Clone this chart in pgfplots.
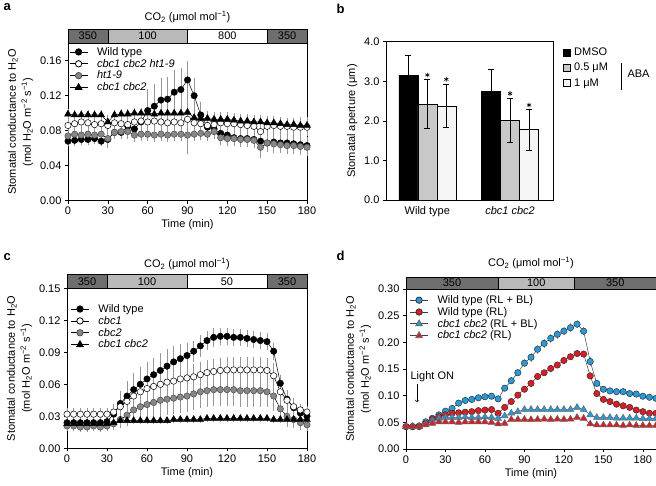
\documentclass[border=0pt]{standalone}
\usepackage{fontspec}
\setmainfont{Liberation Sans}
\usepackage{pgfplots}
\pgfplotsset{compat=1.18}
\usepackage{pgfplotstable}

\definecolor{co2dark}{RGB}{110,110,110}
\definecolor{co2light}{RGB}{185,185,185}
\definecolor{midgray}{RGB}{135,135,135}
\definecolor{ebar}{RGB}{150,150,150}
\definecolor{dblue}{RGB}{35,155,220}
\definecolor{dred}{RGB}{225,25,35}
\definecolor{barmid}{RGB}{200,200,200}
\definecolor{barlight}{RGB}{245,245,245}

% panel a: t, WT, cbc1 cbc2 ht1-9, ht1-9, cbc1 cbc2 (value, error)
\pgfplotstableread{
t wt ewt op eop ht eht cc ecc
0 .068 .006 .086 .008 .074 .006 .099 .006
5 .069 .006 .088 .008 .076 .006 .098 .006
10 .070 .006 .090 .010 .075 .006 .098 .006
15 .070 .006 .089 .010 .076 .006 .098 .006
20 .071 .006 .087 .010 .075 .006 .098 .006
25 .068 .006 .088 .010 .076 .006 .098 .006
30 .070 .010 .086 .012 .071 .010 .090 .008
35 .078 .008 .089 .010 .078 .008 .098 .006
40 .078 .008 .088 .010 .079 .008 .099 .006
45 .085 .010 .087 .010 .079 .008 .099 .006
50 .082 .012 .090 .010 .075 .008 .100 .006
55 .090 .015 .091 .010 .076 .008 .100 .006
60 .103 .025 .090 .010 .076 .008 .100 .008
65 .108 .025 .091 .010 .075 .008 .099 .008
70 .115 .025 .090 .010 .076 .008 .100 .008
75 .116 .025 .089 .010 .075 .008 .100 .008
80 .124 .025 .090 .012 .076 .008 .100 .008
85 .127 .025 .089 .012 .076 .008 .100 .008
90 .138 .022 .093 .040 .075 .008 .101 .010
95 .120 .020 .089 .012 .076 .008 .095 .008
100 .098 .015 .088 .010 .077 .008 .094 .008
105 .084 .012 .086 .010 .076 .008 .094 .008
110 .082 .012 .087 .010 .079 .008 .093 .008
115 .077 .010 .089 .010 .072 .008 .093 .008
120 .075 .010 .088 .010 .071 .008 .093 .008
125 .072 .010 .088 .010 .071 .008 .092 .008
130 .071 .010 .087 .010 .070 .008 .091 .008
135 .071 .010 .086 .010 .070 .008 .091 .008
140 .070 .010 .085 .010 .069 .008 .090 .008
145 .068 .010 .079 .010 .061 .012 .090 .008
150 .066 .010 .085 .010 .066 .010 .089 .008
155 .067 .010 .086 .010 .065 .010 .089 .008
160 .066 .010 .085 .010 .064 .010 .088 .008
165 .066 .010 .085 .010 .063 .010 .087 .008
170 .065 .010 .084 .010 .063 .010 .087 .008
175 .064 .010 .084 .010 .062 .010 .086 .010
180 .063 .010 .084 .010 .061 .010 .086 .010
}\tabA

% panel c: t, WT, cbc1, cbc2, cbc1 cbc2
\pgfplotstableread{
t wt ewt ca eca cb ecb cc ecc
0 .024 .004 .032 .006 .021 .005 .023 .003
5 .024 .004 .032 .006 .021 .005 .023 .003
10 .024 .004 .032 .006 .020 .005 .023 .003
15 .024 .004 .032 .006 .020 .005 .023 .003
20 .024 .004 .032 .006 .021 .005 .023 .003
25 .024 .004 .032 .006 .020 .005 .023 .003
30 .025 .004 .032 .006 .021 .005 .023 .003
35 .032 .008 .034 .008 .023 .006 .024 .003
40 .042 .012 .039 .010 .027 .008 .026 .003
45 .049 .014 .044 .012 .031 .010 .026 .003
50 .055 .016 .049 .012 .036 .012 .026 .003
55 .060 .016 .053 .012 .039 .014 .026 .003
60 .065 .016 .056 .012 .041 .014 .026 .003
65 .069 .016 .058 .012 .043 .015 .026 .003
70 .073 .016 .060 .012 .045 .015 .026 .003
75 .077 .016 .062 .012 .046 .015 .026 .003
80 .081 .015 .063 .012 .047 .015 .027 .003
85 .084 .014 .065 .012 .048 .015 .027 .003
90 .087 .012 .066 .012 .049 .015 .027 .003
95 .091 .010 .067 .012 .051 .015 .027 .003
100 .096 .010 .069 .012 .053 .015 .027 .003
105 .101 .009 .071 .012 .054 .015 .028 .003
110 .104 .009 .072 .012 .055 .015 .028 .003
115 .105 .008 .073 .012 .055 .015 .028 .003
120 .105 .008 .0735 .012 .055 .015 .028 .003
125 .104 .008 .0735 .012 .055 .015 .028 .003
130 .104 .008 .0735 .012 .054 .015 .028 .003
135 .103 .008 .0735 .012 .054 .015 .028 .003
140 .102 .008 .0735 .012 .054 .015 .028 .003
145 .101 .008 .0735 .012 .054 .015 .028 .003
150 .100 .008 .073 .012 .053 .014 .028 .003
155 .091 .008 .068 .012 .049 .014 .027 .003
160 .061 .008 .053 .012 .037 .012 .027 .003
165 .046 .008 .045 .010 .030 .010 .027 .003
170 .038 .006 .039 .008 .027 .008 .027 .003
175 .033 .006 .036 .006 .024 .007 .027 .003
180 .030 .006 .034 .006 .022 .006 .027 .003
}\tabC

% panel d: t, WT (RL+BL), WT (RL), cbc1 cbc2 (RL+BL), cbc1 cbc2 (RL)
\pgfplotstableread{
t wb ewb wr ewr cb ecb cr ecr
0 .042 .004 .042 .004 .042 .003 .042 .003
5 .042 .004 .042 .004 .042 .003 .042 .003
10 .043 .004 .042 .004 .042 .003 .042 .003
15 .051 .005 .048 .004 .047 .003 .045 .003
20 .0575 .005 .0555 .005 .053 .004 .048 .003
25 .064 .005 .0605 .005 .0575 .004 .051 .003
30 .071 .006 .064 .005 .059 .004 .051 .003
35 .076 .006 .067 .005 .059 .004 .051 .003
40 .086 .006 .068 .005 .059 .004 .050 .003
45 .091 .006 .069 .005 .060 .004 .051 .003
50 .093 .006 .070 .005 .059 .004 .051 .003
55 .096 .006 .072 .005 .059 .004 .051 .003
60 .098 .006 .073 .005 .060 .004 .051 .003
65 .099 .006 .074 .005 .059 .004 .050 .003
70 .094 .006 .067 .005 .0575 .004 .047 .003
75 .114 .006 .078 .005 .062 .004 .048 .003
80 .128 .007 .089 .005 .067 .004 .0555 .003
85 .143 .007 .101 .006 .070 .004 .0555 .003
90 .161 .008 .112 .006 .074 .004 .0555 .003
95 .172 .008 .123 .006 .074 .004 .055 .003
100 .187 .008 .136 .006 .074 .004 .0555 .003
105 .198 .008 .143 .006 .074 .004 .056 .003
110 .2075 .008 .151 .006 .074 .004 .0555 .003
115 .215 .008 .1575 .006 .074 .004 .056 .003
120 .221 .008 .166 .006 .074 .004 .0555 .003
125 .2275 .008 .173 .006 .074 .004 .056 .003
130 .234 .008 .179 .006 .078 .004 .059 .003
135 .221 .008 .178 .006 .074 .004 .0575 .003
140 .164 .008 .137 .006 .064 .004 .047 .003
145 .123 .006 .104 .005 .059 .004 .045 .003
150 .112 .006 .093 .005 .059 .004 .045 .003
155 .109 .006 .089 .005 .059 .004 .045 .003
160 .1075 .006 .084 .005 .058 .004 .045 .003
165 .1075 .006 .081 .005 .058 .004 .044 .003
170 .104 .006 .078 .005 .058 .004 .045 .003
175 .103 .006 .073 .005 .058 .004 .044 .003
180 .099 .006 .070 .005 .057 .004 .044 .003
185 .097 .006 .067 .005 .057 .004 .044 .003
190 .095 .006 .067 .005 .057 .004 .044 .003
}\tabD

\pgfplotsset{
  base/.style={scale only axis, clip=false, anchor=south west,
    axis line style={line width=0.7pt},
    tick align=outside, major tick length=3pt, tick style={black, line width=0.6pt},
    xtick pos=bottom, ytick pos=left,
    /pgf/number format/assume math mode=true},
  tc/.style={base,
    yticklabel style={/pgf/number format/fixed, /pgf/number format/fixed zerofill, /pgf/number format/precision=2},
    xlabel={Time (min)}, xlabel style={yshift=2pt},
    ylabel={Stomatal conductance to H\textsubscript{2}O\\[2pt](mol H\textsubscript{2}O m\textsuperscript{−2} s\textsuperscript{−1})},
    ylabel style={align=center},
    legend image code/.code={\draw[mark repeat=2, mark phase=2, ##1, line width=0.8pt] plot coordinates {(-1pt,0pt) (8pt,0pt) (17pt,0pt)};},
    legend style={draw=none, fill=none, anchor=north west, row sep=-1.6pt, inner sep=1pt,
      /tikz/every odd column/.append style={column sep=7pt}},
    legend cell align=left},
  eb/.style={error bars/y dir=both, error bars/y explicit, error bars/error mark=none,
    error bars/error bar style={ebar, line width=0.7pt}},
  ln/.style={line width=0.5pt, mark size=3.2pt},
  tri/.style={line width=0.5pt, mark=triangle*, mark size=3.9pt},
  barerr/.style={error bars/y dir=both, error bars/y explicit,
    error bars/error bar style={black, line width=0.6pt},
    error bars/error mark options={black, line width=0.6pt, mark size=3pt, rotate=90}},
}

\begin{document}
\begin{tikzpicture}[font=\fontsize{11}{13}\selectfont]
\useasboundingbox (0pt,0pt) rectangle (656pt,-485pt);

% ---------- a ----------
\begin{axis}[tc, at={(68pt,-200.7pt)}, width=239pt, height=157.5pt,
  xmin=0, xmax=180, ymin=0, ymax=0.18, xtick={0,30,...,180}, ytick={0,0.04,...,0.16},
  legend style={at={(0.0,0.995)}}]
\addplot[ln, black, mark=*, mark options={fill=black}, eb] table[x=t, y=wt, y error=ewt] {\tabA};
\addlegendentry{Wild type}
\addplot[ln, black, mark=*, mark options={fill=white}, eb] table[x=t, y=op, y error=eop] {\tabA};
\addlegendentry{\textit{cbc1 cbc2 ht1-9}}
\addplot[ln, black, mark=*, mark options={fill=midgray, draw=black!70}, eb] table[x=t, y=ht, y error=eht] {\tabA};
\addlegendentry{\textit{ht1-9}}
\addplot[tri, black, mark options={fill=black}, eb] table[x=t, y=cc, y error=ecc] {\tabA};
\addlegendentry{\textit{cbc1 cbc2}}
\draw[line width=0.6pt, fill=co2dark] (rel axis cs:0,1) rectangle ([yshift=14pt]rel axis cs:0.16667,1);
\draw[line width=0.6pt, fill=co2light] (rel axis cs:0.16667,1) rectangle ([yshift=14pt]rel axis cs:0.5,1);
\draw[line width=0.6pt, fill=white] (rel axis cs:0.5,1) rectangle ([yshift=14pt]rel axis cs:0.83333,1);
\draw[line width=0.6pt, fill=co2dark] (rel axis cs:0.83333,1) rectangle ([yshift=14pt]rel axis cs:1,1);
\node at ([yshift=7pt]rel axis cs:0.08333,1) {350};
\node at ([yshift=7pt]rel axis cs:0.33333,1) {100};
\node at ([yshift=7pt]rel axis cs:0.66667,1) {800};
\node at ([yshift=7pt]rel axis cs:0.91667,1) {350};
\node at ([yshift=26pt]rel axis cs:0.5,1) {CO\textsubscript{2} (μmol mol\textsuperscript{−1})};
\end{axis}

% ---------- b ----------
\begin{axis}[base, at={(386pt,-200pt)}, width=167pt, height=158.3pt,
  xmin=-0.5, xmax=1.52, ymin=0, ymax=4, ytick={0,1,...,4},
  yticklabel style={/pgf/number format/fixed, /pgf/number format/fixed zerofill, /pgf/number format/precision=1},
  xtick={0,1}, xticklabels={Wild type, \textit{cbc1 cbc2}}, xtick style={draw=none},
  ylabel={Stomatal aperture (μm)},
  legend image code/.code={\draw[#1, line width=0.6pt] (0pt,-3.5pt) rectangle (7pt,3.5pt);},
  legend style={draw=none, fill=none, at={(1.05,0.98)}, anchor=north west, row sep=2pt, inner sep=1pt,
    /tikz/every odd column/.append style={column sep=2pt}},
  legend cell align=left]
\addplot[ybar, bar width=0.23, bar shift=0, fill=black, draw=black, line width=0.6pt, barerr]
  coordinates {(-0.23,3.15) +- (0,0.50) (0.77,2.75) +- (0,0.55)};
\addlegendentry{DMSO}
\addplot[ybar, bar width=0.23, bar shift=0, fill=barmid, draw=black, line width=0.6pt, barerr]
  coordinates {(0,2.42) +- (0,0.62) (1,2.02) +- (0,0.56)};
\addlegendentry{0.5 μM}
\addplot[ybar, bar width=0.23, bar shift=0, fill=barlight, draw=black, line width=0.6pt, barerr]
  coordinates {(0.23,2.38) +- (0,0.55) (1.23,1.78) +- (0,0.52)};
\addlegendentry{1 μM}
\addplot[only marks, mark=asterisk, mark size=2.4pt, black, line width=0.6pt, forget plot]
  coordinates {(0,3.16) (0.23,3.05) (1,2.69) (1.23,2.40)};
\end{axis}
\draw[line width=0.6pt] (621pt,-63pt) -- (621pt,-90pt);
\node[anchor=west] at (624pt,-74pt) {ABA};

% ---------- c ----------
\begin{axis}[tc, at={(67pt,-448.3pt)}, width=240pt, height=160pt,
  xmin=0, xmax=180, ymin=0, ymax=0.15, xtick={0,30,...,180}, ytick={0,0.03,...,0.15},
  legend style={at={(0.01,0.92)}}]
\addplot[ln, black, mark=*, mark options={fill=black}, eb] table[x=t, y=wt, y error=ewt] {\tabC};
\addlegendentry{Wild type}
\addplot[ln, black, mark=*, mark options={fill=white}, eb] table[x=t, y=ca, y error=eca] {\tabC};
\addlegendentry{\textit{cbc1}}
\addplot[ln, black, mark=*, mark options={fill=midgray, draw=black!70}, eb] table[x=t, y=cb, y error=ecb] {\tabC};
\addlegendentry{\textit{cbc2}}
\addplot[tri, black, mark options={fill=black}, eb] table[x=t, y=cc, y error=ecc] {\tabC};
\addlegendentry{\textit{cbc1 cbc2}}
\draw[line width=0.6pt, fill=co2dark] (rel axis cs:0,1) rectangle ([yshift=14pt]rel axis cs:0.16667,1);
\draw[line width=0.6pt, fill=co2light] (rel axis cs:0.16667,1) rectangle ([yshift=14pt]rel axis cs:0.5,1);
\draw[line width=0.6pt, fill=white] (rel axis cs:0.5,1) rectangle ([yshift=14pt]rel axis cs:0.83333,1);
\draw[line width=0.6pt, fill=co2dark] (rel axis cs:0.83333,1) rectangle ([yshift=14pt]rel axis cs:1,1);
\node at ([yshift=7pt]rel axis cs:0.08333,1) {350};
\node at ([yshift=7pt]rel axis cs:0.33333,1) {100};
\node at ([yshift=7pt]rel axis cs:0.66667,1) {50};
\node at ([yshift=7pt]rel axis cs:0.91667,1) {350};
\node at ([yshift=24pt]rel axis cs:0.5,1) {CO\textsubscript{2} (μmol mol\textsuperscript{−1})};
\end{axis}

% ---------- d ----------
\begin{axis}[tc, at={(406pt,-449pt)}, width=250pt, height=160pt,
  xmin=0, xmax=190, ymin=0, ymax=0.30, xtick={0,30,...,180}, ytick={0,0.05,...,0.30},
  legend style={at={(0.01,0.98)}}]
\addplot[ln, black!75, mark=*, mark options={fill=dblue, draw=black!80}, eb] table[x=t, y=wb, y error=ewb] {\tabD};
\addlegendentry{Wild type (RL + BL)}
\addplot[ln, black!75, mark=*, mark options={fill=dred, draw=black!80}, eb] table[x=t, y=wr, y error=ewr] {\tabD};
\addlegendentry{Wild type (RL)}
\addplot[tri, black!75, mark options={fill=dblue, draw=black!60}, eb] table[x=t, y=cb, y error=ecb] {\tabD};
\addlegendentry{\textit{cbc1 cbc2} (RL + BL)}
\addplot[tri, black!75, mark options={fill=dred, draw=black!60}, eb] table[x=t, y=cr, y error=ecr] {\tabD};
\addlegendentry{\textit{cbc1 cbc2} (RL)}
\draw[line width=0.6pt, fill=co2dark] (rel axis cs:0,1) rectangle ([yshift=12pt]rel axis cs:0.36842,1);
\draw[line width=0.6pt, fill=co2light] (rel axis cs:0.36842,1) rectangle ([yshift=12pt]rel axis cs:0.67368,1);
\draw[line width=0.6pt, fill=co2dark] (rel axis cs:0.67368,1) rectangle ([yshift=12pt]rel axis cs:1,1);
\node at ([yshift=6pt]rel axis cs:0.18421,1) {350};
\node at ([yshift=6pt]rel axis cs:0.52105,1) {100};
\node at ([yshift=6pt]rel axis cs:0.83684,1) {350};
\node at ([yshift=26pt]rel axis cs:0.5,1) {CO\textsubscript{2} (μmol mol\textsuperscript{−1})};
\node at (axis cs:20,0.135) {Light ON};
\draw[->, line width=0.6pt] (axis cs:8.5,0.122) -- (axis cs:8.5,0.088);
\end{axis}

\node[font=\fontsize{13}{15}\selectfont\bfseries, anchor=base west] at (0pt,-10pt) {a};
\node[font=\fontsize{13}{15}\selectfont\bfseries, anchor=base west] at (333pt,-13pt) {b};
\node[font=\fontsize{13}{15}\selectfont\bfseries, anchor=base west] at (0pt,-260pt) {c};
\node[font=\fontsize{13}{15}\selectfont\bfseries, anchor=base west] at (333pt,-260pt) {d};
\end{tikzpicture}
\end{document}
